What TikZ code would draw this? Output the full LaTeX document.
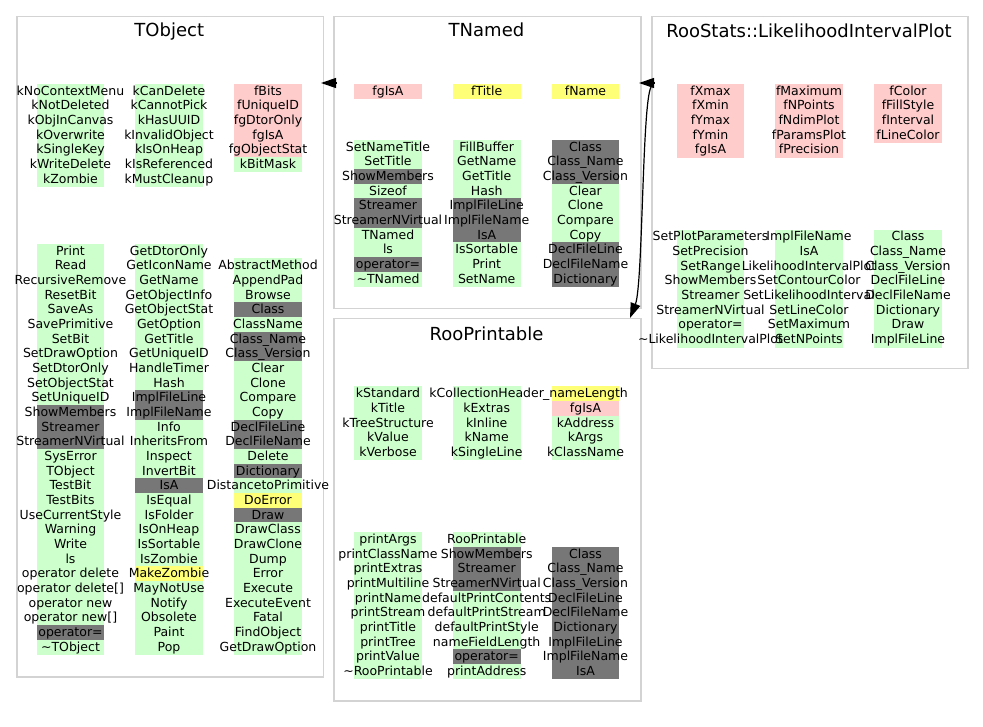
\documentclass[tikz,border=0pt]{standalone}
\usepackage{fontspec}
\setmainfont{DejaVu Sans}
\usetikzlibrary{arrows.meta}
\definecolor{cg}{HTML}{CCFFCC}
\definecolor{cd}{HTML}{777777}
\definecolor{cp}{HTML}{FFCCCC}
\definecolor{cy}{HTML}{FFFF77}
\definecolor{boxline}{HTML}{D3D3D3}
\pgfdeclarelayer{bglayer}
\pgfsetlayers{bglayer,main}
\newcommand\mcol[4]{%
  \foreach \rc/\rt [count=\ri from 0] in {#4} {
    \node[mrow] (#1-\ri) at (#2, {#3+\ri*14.67}) {\makebox[0pt]{\rt}};
    \begin{pgfonlayer}{bglayer}
      \fill[c\rc] ([yshift=0.15pt]#1-\ri.north west) rectangle ([yshift=-0.15pt]#1-\ri.south east);
    \end{pgfonlayer}
  }}
\begin{document}
\begin{tikzpicture}[x=1pt,y=-1pt,
  mrow/.style={rectangle, inner sep=0pt, minimum width=67.5pt, minimum height=14.67pt,
    text height=9.1pt, text depth=1.6pt, font=\fontsize{12.5}{14}\selectfont},
  clsbox/.style={draw=boxline, line width=1.5pt, rectangle, anchor=north west, inner sep=0pt},
  ctitle/.style={inner sep=0pt, text height=13.1pt, text depth=0pt, font=\fontsize{18}{20}\selectfont},
  inh/.style={draw=black, line width=1.2pt, -{Triangle[length=15pt,width=10pt]}}]
\useasboundingbox (0,0) rectangle (983,727);

% class boxes
\node[clsbox, minimum width=306.5pt, minimum height=660pt] (tobject) at (16,16) {};
\node[clsbox, minimum width=307pt, minimum height=292pt] (tnamed) at (333,16) {};
\node[clsbox, minimum width=316pt, minimum height=352pt] (roostats) at (651,16) {};
\node[clsbox, minimum width=307pt, minimum height=382pt] (rooprint) at (333,318) {};

% titles
\node[ctitle] (tobject-t) at (169.25,30.3) {TObject};
\node[ctitle] (tnamed-t) at (486.5,30.3) {TNamed};
\node[ctitle] (roostats-t) at (809,30.8) {RooStats::LikelihoodIntervalPlot};
\node[ctitle] (rooprint-t) at (486.5,333.7) {RooPrintable};

% TObject
\mcol{tof1}{70.5}{91.33}{g/kNoContextMenu, g/kNotDeleted, g/kObjInCanvas, g/kOverwrite, g/kSingleKey, g/kWriteDelete, g/kZombie}
\mcol{tof2}{169}{91.33}{g/kCanDelete, g/kCannotPick, g/kHasUUID, g/kInvalidObject, g/kIsOnHeap, g/kIsReferenced, g/kMustCleanup}
\mcol{tof3}{268}{91.33}{p/fBits, p/fUniqueID, p/fgDtorOnly, p/fgIsA, p/fgObjectStat, g/kBitMask}
\mcol{tom1}{70.5}{251.3}{g/Print, g/Read, g/RecursiveRemove, g/ResetBit, g/SaveAs, g/SavePrimitive, g/SetBit, g/SetDrawOption, g/SetDtorOnly, g/SetObjectStat, g/SetUniqueID, d/ShowMembers, d/Streamer, d/StreamerNVirtual, g/SysError, g/TObject, g/TestBit, g/TestBits, g/UseCurrentStyle, g/Warning, g/Write, g/ls, g/operator delete, g/operator delete[], g/operator new, g/operator new[], d/operator=, g/\textasciitilde TObject}
\mcol{tom2}{169}{251.3}{g/GetDtorOnly, g/GetIconName, g/GetName, g/GetObjectInfo, g/GetObjectStat, g/GetOption, g/GetTitle, g/GetUniqueID, g/HandleTimer, g/Hash, d/ImplFileLine, d/ImplFileName, g/Info, g/InheritsFrom, g/Inspect, g/InvertBit, d/IsA, g/IsEqual, g/IsFolder, g/IsOnHeap, g/IsSortable, g/IsZombie, y/MakeZombie, g/MayNotUse, g/Notify, g/Obsolete, g/Paint, g/Pop}
\mcol{tom3}{268}{266}{g/AbstractMethod, g/AppendPad, g/Browse, d/Class, g/ClassName, d/Class\_Name, d/Class\_Version, g/Clear, g/Clone, g/Compare, g/Copy, d/DeclFileLine, d/DeclFileName, g/Delete, d/Dictionary, g/DistancetoPrimitive, y/DoError, d/Draw, g/DrawClass, g/DrawClone, g/Dump, g/Error, g/Execute, g/ExecuteEvent, g/Fatal, g/FindObject, g/GetDrawOption}

% TNamed
\mcol{tnf1}{388}{91.33}{p/fgIsA}
\mcol{tnf2}{486.7}{91.33}{y/fTitle}
\mcol{tnf3}{585.5}{91.33}{y/fName}
\mcol{tnm1}{388}{147.3}{g/SetNameTitle, g/SetTitle, d/ShowMembers, g/Sizeof, d/Streamer, d/StreamerNVirtual, g/TNamed, g/ls, d/operator=, g/\textasciitilde TNamed}
\mcol{tnm2}{486.7}{147.3}{g/FillBuffer, g/GetName, g/GetTitle, g/Hash, d/ImplFileLine, d/ImplFileName, d/IsA, g/IsSortable, g/Print, g/SetName}
\mcol{tnm3}{585.5}{147.3}{d/Class, d/Class\_Name, d/Class\_Version, g/Clear, g/Clone, g/Compare, g/Copy, d/DeclFileLine, d/DeclFileName, d/Dictionary}

% RooStats::LikelihoodIntervalPlot
\mcol{rsf1}{710.5}{91.33}{p/fXmax, p/fXmin, p/fYmax, p/fYmin, p/fgIsA}
\mcol{rsf2}{809}{91.33}{p/fMaximum, p/fNPoints, p/fNdimPlot, p/fParamsPlot, p/fPrecision}
\mcol{rsf3}{908}{91.33}{p/fColor, p/fFillStyle, p/fInterval, p/fLineColor}
\mcol{rsm1}{710.5}{237.2}{g/SetPlotParameters, g/SetPrecision, g/SetRange, g/ShowMembers, g/Streamer, g/StreamerNVirtual, g/operator=, g/\textasciitilde LikelihoodIntervalPlot}
\mcol{rsm2}{809}{237.2}{g/ImplFileName, g/IsA, g/LikelihoodIntervalPlot, g/SetContourColor, g/SetLikelihoodInterval, g/SetLineColor, g/SetMaximum, g/SetNPoints}
\mcol{rsm3}{908}{237.2}{g/Class, g/Class\_Name, g/Class\_Version, g/DeclFileLine, g/DeclFileName, g/Dictionary, g/Draw, g/ImplFileLine}

% RooPrintable
\mcol{rpf1}{388}{394}{g/kStandard, g/kTitle, g/kTreeStructure, g/kValue, g/kVerbose}
\mcol{rpf2}{486.7}{394}{g/kCollectionHeader, g/kExtras, g/kInline, g/kName, g/kSingleLine}
\mcol{rpf3}{585.5}{394}{y/\_nameLength, p/fgIsA, g/kAddress, g/kArgs, g/kClassName}
\mcol{rpm1}{388}{539.7}{g/printArgs, g/printClassName, g/printExtras, g/printMultiline, g/printName, g/printStream, g/printTitle, g/printTree, g/printValue, g/\textasciitilde RooPrintable}
\mcol{rpm2}{486.7}{539.7}{g/RooPrintable, d/ShowMembers, d/Streamer, d/StreamerNVirtual, g/defaultPrintContents, g/defaultPrintStream, g/defaultPrintStyle, g/nameFieldLength, d/operator=, g/printAddress}
\mcol{rpm3}{585.5}{554.4}{d/Class, d/Class\_Name, d/Class\_Version, d/DeclFileLine, d/DeclFileName, d/Dictionary, d/ImplFileLine, d/ImplFileName, d/IsA}

% inheritance connectors
\coordinate (tn-out) at (337,83);
\coordinate (to-in) at (321,83);
\coordinate (rs-out) at (654,83);
\coordinate (tn-in) at (639,83);
\coordinate (rs-out2) at (651,87);
\coordinate (rp-in) at (630,318);
\draw[inh] (tn-out) -- (to-in);
\draw[inh] (rs-out) -- (tn-in);
\draw[inh] (rs-out2) .. controls (642,104) and (643,285) .. (rp-in);
\end{tikzpicture}
\end{document}
